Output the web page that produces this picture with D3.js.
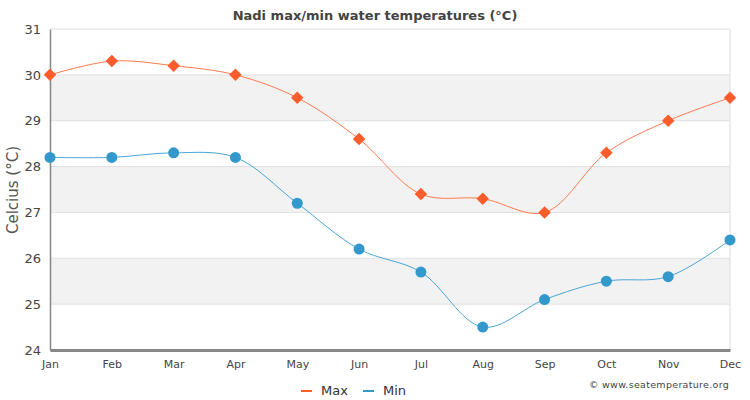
<!DOCTYPE html>
<html><head><meta charset="utf-8">
<script src="https://cdn.jsdelivr.net/npm/d3@7"></script>
<style>body{margin:0;background:#fff}svg{display:block;font-family:"DejaVu Sans",Verdana,sans-serif}</style>
</head><body><svg id="c" width="750" height="400"></svg>
<script>
const months = ["Jan","Feb","Mar","Apr","May","Jun","Jul","Aug","Sep","Oct","Nov","Dec"];
const maxTemps = [30, 30.3, 30.2, 30, 29.5, 28.6, 27.4, 27.3, 27, 28.3, 29, 29.5];
const minTemps = [28.2, 28.2, 28.3, 28.2, 27.2, 26.2, 25.7, 24.5, 25.1, 25.5, 25.6, 26.4];
const yTicks = [24, 25, 26, 27, 28, 29, 30, 31];

const svg = d3.select("#c");
const L = 50, R = 730, T = 29, B = 350;
const x = d3.scalePoint().domain(months).range([L, R]);
const y = d3.scaleLinear().domain([24, 31]).range([B, T]);

// bands
for (let i = 0; i < yTicks.length - 1; i++) {
  const v = yTicks[i];
  svg.append("rect").attr("x", L).attr("width", R - L)
    .attr("y", y(v + 1)).attr("height", y(v) - y(v + 1))
    .attr("fill", (v % 2 === 1) ? "#f2f2f2" : "#ffffff");
}
// grid lines
svg.append("g").selectAll("line").data(yTicks).join("line")
  .attr("x1", L).attr("x2", R).attr("y1", d => y(d)).attr("y2", d => y(d))
  .attr("stroke", "#e0e0e0").attr("stroke-width", 1);
// right border
svg.append("line").attr("x1", R).attr("x2", R).attr("y1", T).attr("y2", B)
  .attr("stroke", "#dddddd");

// y axis
const yAxis = d3.axisLeft(y).tickValues(yTicks).tickSize(0).tickPadding(9).tickFormat(d3.format("d"));
const gy = svg.append("g").attr("transform", `translate(${L},0)`).call(yAxis);
gy.select(".domain").attr("stroke", "#888").attr("stroke-width", 1.5);
gy.selectAll("text").attr("font-size", 13).attr("fill", "#444").attr("font-family", "DejaVu Sans");

// x axis
const xAxis = d3.axisBottom(x).tickSize(0).tickPadding(10);
const gx = svg.append("g").attr("transform", `translate(0,${B})`).call(xAxis);
gx.select(".domain").attr("stroke", "#888").attr("stroke-width", 3);
gx.selectAll("text").attr("font-size", 11).attr("fill", "#444").attr("font-family", "DejaVu Sans");

const line = vals => d3.line()
  .x((d, i) => x(months[i])).y(d => y(d))
  .curve(d3.curveCatmullRom.alpha(0.5))(vals);

const maxColor = "#ff5c2b", minColor = "#3399cc";
svg.append("path").attr("d", line(maxTemps)).attr("fill", "none")
  .attr("stroke", "#ff7a4f").attr("stroke-width", 1);
svg.append("path").attr("d", line(minTemps)).attr("fill", "none")
  .attr("stroke", "#4aa5d8").attr("stroke-width", 1);

const diamond = d3.symbol().type(d3.symbolDiamond2).size(100);
svg.append("g").selectAll("path").data(maxTemps).join("path")
  .attr("d", diamond)
  .attr("transform", (d, i) => `translate(${x(months[i])},${y(d)})`)
  .attr("fill", maxColor);
svg.append("g").selectAll("circle").data(minTemps).join("circle")
  .attr("cx", (d, i) => x(months[i])).attr("cy", d => y(d)).attr("r", 5.5)
  .attr("fill", minColor);

// title
svg.append("text").attr("x", 375).attr("y", 20).attr("text-anchor", "middle")
  .attr("font-size", 13).attr("font-weight", "bold").attr("fill", "#444")
  .text("Nadi max/min water temperatures (°C)");
// y title
svg.append("text").attr("transform", "translate(18,190) rotate(-90)")
  .attr("text-anchor", "middle").attr("font-size", 15).attr("fill", "#555")
  .text("Celcius (°C)");

// legend
const lg = svg.append("g");
lg.append("line").attr("x1", 301).attr("x2", 312).attr("y1", 391).attr("y2", 391)
  .attr("stroke", maxColor).attr("stroke-width", 2);
lg.append("text").attr("x", 321).attr("y", 395).attr("font-size", 13).attr("fill", "#333").text("Max");
lg.append("line").attr("x1", 363).attr("x2", 374).attr("y1", 391).attr("y2", 391)
  .attr("stroke", minColor).attr("stroke-width", 2);
lg.append("text").attr("x", 383).attr("y", 395).attr("font-size", 13).attr("fill", "#333").text("Min");

svg.append("text").attr("x", 729).attr("y", 388).attr("text-anchor", "end")
  .attr("font-size", 9.5).attr("fill", "#444").attr("letter-spacing", 0.3)
  .text("© www.seatemperature.org");
</script></body></html>
